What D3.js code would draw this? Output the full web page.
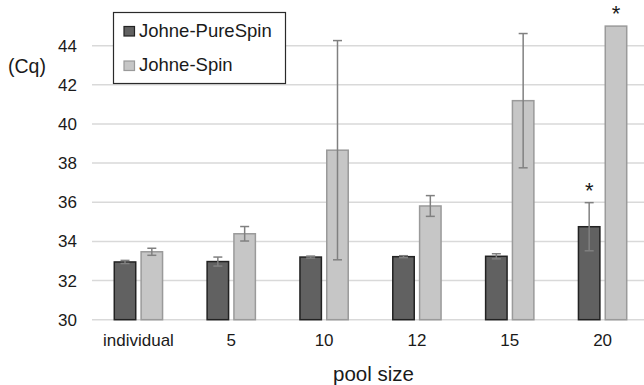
<!DOCTYPE html>
<html>
<head>
<meta charset="utf-8">
<script src="https://cdn.jsdelivr.net/npm/d3@7"></script>
<style>
  body { margin: 0; background: #fff; }
  text { font-family: "Liberation Sans", Arial, sans-serif; fill: #1a1a1a; }
</style>
</head>
<body>
<div id="chart"></div>
<script>
var width = 644, height = 385;

// data
var categories = ["individual", "5", "10", "12", "15", "20"];
var series = ["Johne-PureSpin", "Johne-Spin"];
var pureSpin = [32.95, 32.97, 33.2, 33.22, 33.24, 34.75];
var pureSpinErr = [0.08, 0.23, 0.05, 0.05, 0.13, 1.23];
var spin = [33.47, 34.39, 38.66, 35.81, 41.19, 45];
var spinErr = [0.18, 0.37, 5.6, 0.53, 3.43, 0];
var yTicks = [30, 32, 34, 36, 38, 40, 42, 44];
var starred = [{ cat: "20", s: 0 }, { cat: "20", s: 1 }];

var fills = ["#616161", "#c6c6c6"],
    strokes = ["#222222", "#9a9a9a"];

var rows = [];
categories.forEach(function(c, i) {
  rows.push({ cat: c, s: 0, v: pureSpin[i], e: pureSpinErr[i] });
  rows.push({ cat: c, s: 1, v: spin[i], e: spinErr[i] });
});

var svg = d3.select("#chart").append("svg").attr("width", width).attr("height", height);

var x = d3.scaleBand().domain(categories).range([92, 649]).paddingInner(0.48).paddingOuter(0.24);
var x1 = d3.scaleBand().domain([0, 1]).range([0, x.bandwidth()]).paddingInner(0.2);
var y = d3.scaleLinear().domain([30, 45]).range([319.7, 26.1]);

// gridlines
svg.append("g").selectAll("line")
  .data(yTicks)
  .enter().append("line")
    .attr("x1", 92).attr("x2", width)
    .attr("y1", function(d) { return y(d); })
    .attr("y2", function(d) { return y(d); })
    .attr("stroke", "#d9d9d9")
    .attr("stroke-width", 1.5);

// y axis labels
var yAxis = svg.append("g")
    .attr("transform", "translate(92,0)")
    .call(d3.axisLeft(y).tickValues(yTicks).tickSize(0).tickPadding(15));
yAxis.select(".domain").remove();
yAxis.selectAll("text").attr("font-size", 17).attr("font-family", "Liberation Sans, Arial, sans-serif").attr("fill", "#1a1a1a");

// x axis labels
var xAxis = svg.append("g")
    .attr("transform", "translate(0,320)")
    .call(d3.axisBottom(x).tickSize(0).tickPadding(14));
xAxis.select(".domain").remove();
xAxis.selectAll("text").attr("font-size", 17).attr("font-family", "Liberation Sans, Arial, sans-serif").attr("fill", "#1a1a1a");

// bars
svg.append("g").selectAll("rect")
  .data(rows)
  .enter().append("rect")
    .attr("x", function(d) { return x(d.cat) + x1(d.s); })
    .attr("y", function(d) { return y(d.v); })
    .attr("width", x1.bandwidth())
    .attr("height", function(d) { return y(30) - y(d.v); })
    .attr("fill", function(d) { return fills[d.s]; })
    .attr("stroke", function(d) { return strokes[d.s]; })
    .attr("stroke-width", 1.5);

// error bars
var err = svg.append("g").attr("stroke", "#808080").attr("stroke-width", 1.5)
  .selectAll("g")
  .data(rows.filter(function(d) { return d.e > 0; }))
  .enter().append("g")
    .attr("transform", function(d) { return "translate(" + (x(d.cat) + x1(d.s) + x1.bandwidth() / 2) + ",0)"; });

err.append("line")
    .attr("y1", function(d) { return y(d.v + d.e); })
    .attr("y2", function(d) { return y(d.v - d.e); });
err.append("line")
    .attr("x1", -4.5).attr("x2", 4.5)
    .attr("y1", function(d) { return y(d.v + d.e); })
    .attr("y2", function(d) { return y(d.v + d.e); });
err.append("line")
    .attr("x1", -4.5).attr("x2", 4.5)
    .attr("y1", function(d) { return y(d.v - d.e); })
    .attr("y2", function(d) { return y(d.v - d.e); });

// significance stars
svg.append("g").selectAll("text")
  .data(starred)
  .enter().append("text")
    .attr("x", function(d) { return x(d.cat) + x1(d.s) + x1.bandwidth() / 2; })
    .attr("y", function(d) {
      var i = categories.indexOf(d.cat);
      var top = d.s === 0 ? pureSpin[i] + pureSpinErr[i] : spin[i] + spinErr[i];
      return y(top) - 5;
    })
    .attr("text-anchor", "middle")
    .attr("font-size", 22)
    .text("*");

// axis titles
svg.append("text")
    .attr("x", 8).attr("y", 73)
    .attr("font-size", 19.5)
    .text("(Cq)");

svg.append("text")
    .attr("x", 373.5).attr("y", 381)
    .attr("text-anchor", "middle")
    .attr("font-size", 20.5)
    .text("pool size");

// legend
var legend = svg.append("g");
legend.append("rect")
    .attr("x", 113.5).attr("y", 12.5)
    .attr("width", 172).attr("height", 71)
    .attr("fill", "#fff")
    .attr("stroke", "#2a2a2a")
    .attr("stroke-width", 1.2);

var item = legend.selectAll("g")
  .data(series)
  .enter().append("g")
    .attr("transform", function(d, i) { return "translate(124," + (26.5 + i * 34.5) + ")"; });

item.append("rect")
    .attr("width", 10.5).attr("height", 9.5)
    .attr("fill", function(d, i) { return fills[i]; })
    .attr("stroke", function(d, i) { return strokes[i]; })
    .attr("stroke-width", 1.2);

item.append("text")
    .attr("x", 15).attr("y", 10)
    .attr("font-size", 18.5)
    .text(function(d) { return d; });
</script>
</body>
</html>
